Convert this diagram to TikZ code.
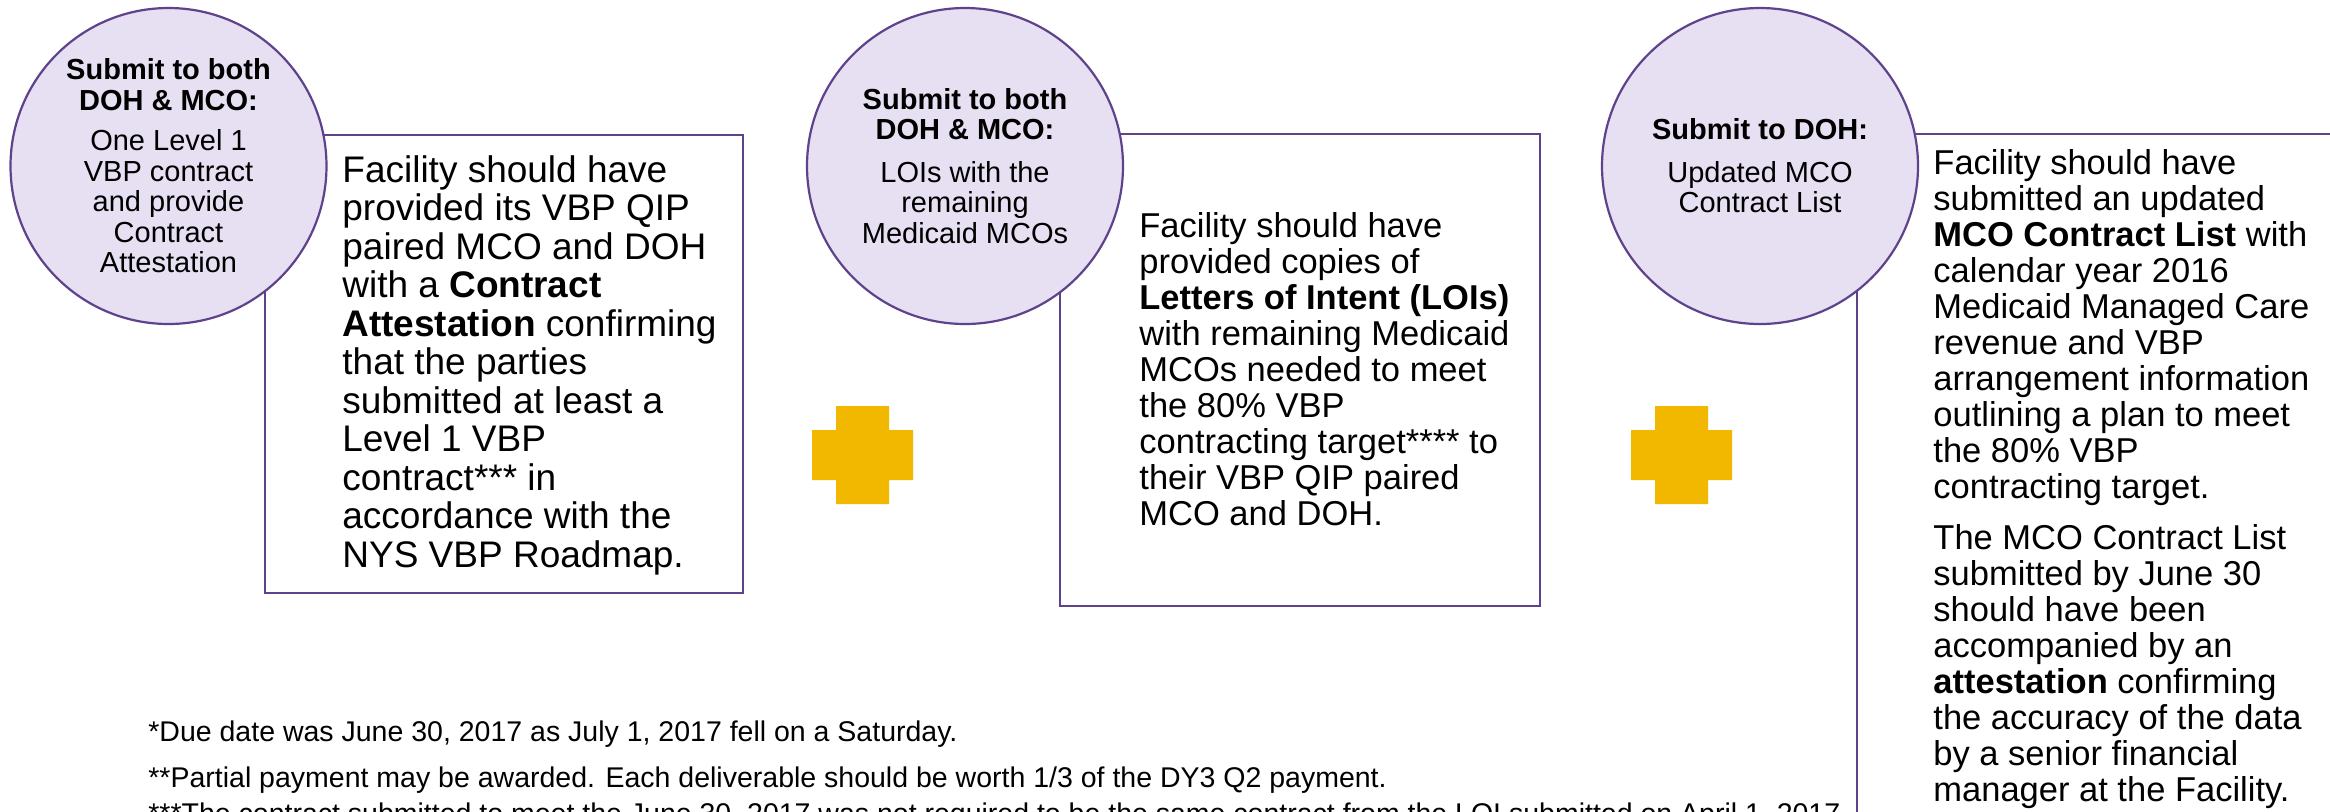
\documentclass[tikz,border=0pt]{standalone}
\usepackage{fontspec}
\setmainfont{Liberation Sans}
\definecolor{linepurple}{RGB}{94,66,140}
\definecolor{circfill}{RGB}{231,223,242}
\definecolor{plusgold}{RGB}{242,184,0}
\tikzset{
  circ/.style={draw=linepurple, line width=1.1pt, fill=circfill, shape=circle,
    minimum size=158pt, inner sep=0pt, align=center,
    font=\fontsize{14.5}{15.25}\selectfont},
  boxline/.style={draw=linepurple, line width=1.2pt},
  bodytext/.style={anchor=north west, inner sep=0pt, align=left},
  fnote/.style={anchor=base west, inner sep=0pt, font=\fontsize{14.25}{16}\selectfont}
}

\begin{document}
\begin{tikzpicture}[x=0.5pt,y=-0.5pt]
    \useasboundingbox (0,0) rectangle (2330,811);
    \clip (0,0) rectangle (2330,811);

    % boxes first, circles sit on their corners
    \draw[boxline] (265,135) rectangle (743,593);
    \draw[boxline] (1060,134) rectangle (1540,606);
    \draw[boxline] (1857,134) rectangle (2345,840);

    \node[circ] (circ1) at (168.5,166) {\textbf{Submit to both}\\\textbf{DOH \& MCO:}\\[5pt]One Level 1\\VBP contract\\and provide\\Contract\\Attestation};
    \node[circ] (circ2) at (965,166) {\textbf{Submit to both}\\\textbf{DOH \& MCO:}\\[6pt]LOIs with the\\remaining\\Medicaid MCOs};
    \node[circ] (circ3) at (1760,166) {\textbf{Submit to DOH:}\\[6pt]Updated MCO\\Contract List};

    % plus signs
    \fill[plusgold] (812,430) rectangle (913,480) (836,406) rectangle (889,504);
    \fill[plusgold] (1631,430) rectangle (1732,480) (1655,406) rectangle (1708,504);

    \node[bodytext, font=\fontsize{18.5}{19.25}\selectfont] (txt1) at (342,155) {Facility should have\\provided its VBP QIP\\paired MCO and DOH\\with a \textbf{Contract}\\\textbf{Attestation} confirming\\that the parties\\submitted at least a\\Level 1 VBP\\contract*** in\\accordance with the\\NYS VBP Roadmap.};
    \node[bodytext, font=\fontsize{17.25}{18}\selectfont] (txt2) at (1139,212) {Facility should have\\provided copies of\\\textbf{Letters of Intent (LOIs)}\\with remaining Medicaid\\MCOs needed to meet\\the 80\% VBP\\contracting target**** to\\their VBP QIP paired\\MCO and DOH.};
    \node[bodytext, font=\fontsize{17.25}{18}\selectfont] (txt3) at (1933,149) {Facility should have\\submitted an updated\\\textbf{MCO Contract List} with\\calendar year 2016\\Medicaid Managed Care\\revenue and VBP\\arrangement information\\outlining a plan to meet\\the 80\% VBP\\contracting target.\\[7.5pt]The MCO Contract List\\submitted by June 30\\should have been\\accompanied by an\\\textbf{attestation} confirming\\the accuracy of the data\\by a senior financial\\manager at the Facility.};

    % footnotes
    \node[fnote] (note1) at (148,741) {*Due date was June 30, 2017 as July 1, 2017 fell on a Saturday.};
    \node[fnote] (note2) at (148,787) {**Partial payment may be awarded. Each deliverable should be worth 1/3 of the DY3 Q2 payment.};
    \node[fnote] (note3) at (148,823) {***The contract submitted to meet the June 30, 2017 was not required to be the same contract from the LOI submitted on April 1, 2017};
\end{tikzpicture}
\end{document}
